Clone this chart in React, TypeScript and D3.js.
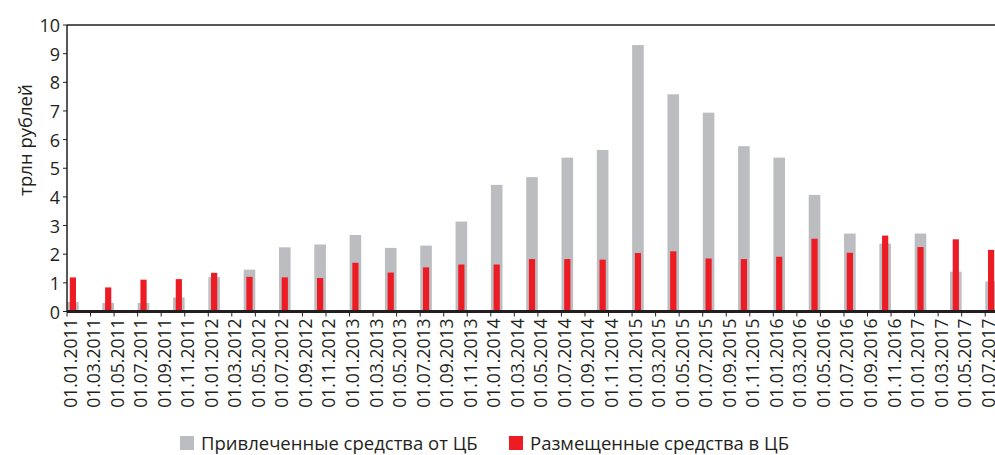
import React from 'react';
import * as d3 from 'd3';

// quarterly observations, trillion rubles
const dates = [
  '01.01.2011', '01.04.2011', '01.07.2011', '01.10.2011',
  '01.01.2012', '01.04.2012', '01.07.2012', '01.10.2012',
  '01.01.2013', '01.04.2013', '01.07.2013', '01.10.2013',
  '01.01.2014', '01.04.2014', '01.07.2014', '01.10.2014',
  '01.01.2015', '01.04.2015', '01.07.2015', '01.10.2015',
  '01.01.2016', '01.04.2016', '01.07.2016', '01.10.2016',
  '01.01.2017', '01.04.2017', '01.07.2017'
];
const borrowed = [
  0.33, 0.30, 0.30, 0.49, 1.20, 1.46, 2.24, 2.34,
  2.67, 2.22, 2.30, 3.14, 4.42, 4.69, 5.37, 5.64,
  9.30, 7.58, 6.94, 5.77, 5.37, 4.07, 2.72, 2.37,
  2.72, 1.39, 1.05
];
const placed = [
  1.19, 0.84, 1.11, 1.13, 1.35, 1.21, 1.19, 1.17,
  1.70, 1.36, 1.54, 1.64, 1.64, 1.83, 1.83, 1.81,
  2.04, 2.10, 1.85, 1.83, 1.91, 2.54, 2.05, 2.65,
  2.25, 2.52, 2.15
];
const tickLabels = [
  '01.01.2011', '01.03.2011', '01.05.2011', '01.07.2011', '01.09.2011', '01.11.2011',
  '01.01.2012', '01.03.2012', '01.05.2012', '01.07.2012', '01.09.2012', '01.11.2012',
  '01.01.2013', '01.03.2013', '01.05.2013', '01.07.2013', '01.09.2013', '01.11.2013',
  '01.01.2014', '01.03.2014', '01.05.2014', '01.07.2014', '01.09.2014', '01.11.2014',
  '01.01.2015', '01.03.2015', '01.05.2015', '01.07.2015', '01.09.2015', '01.11.2015',
  '01.01.2016', '01.03.2016', '01.05.2016', '01.07.2016', '01.09.2016', '01.11.2016',
  '01.01.2017', '01.03.2017', '01.05.2017', '01.07.2017'
];
const yTicks = [0, 1, 2, 3, 4, 5, 6, 7, 8, 9, 10];
const seriesNames = ['Привлеченные средства от ЦБ', 'Размещенные средства в ЦБ'];

const GRAY = '#bcbdc1';
const RED = '#ed1c24';
const INK = '#231f20';
const FONT = '"Open Sans", sans-serif';

const W = 995;
const H = 455;
const left = 67;
const right = 997;
const top = 25;
const bottom = 311.5;

const parse = d3.timeParse('%d.%m.%Y');
const key = d3.timeFormat('%Y-%m');

const App: React.FC = () => {
  // one band per month, bars sit in the middle of their month
  const months = d3.timeMonth.range(new Date(2011, 0, 1), new Date(2017, 7, 1)).map(key);
  const x = d3.scaleBand<string>().domain(months).range([left, right]).padding(0);
  const y = d3.scaleLinear().domain([0, 10]).range([bottom, top]);
  const bw = x.bandwidth();
  const mx = (s: string) => (x(key(parse(s) as Date)) as number);

  return (
    <svg width={W} height={H} style={{ position: 'absolute', left: 0, top: 0 }} fontFamily={FONT}>
      <rect width={W} height={H} fill="#fff" />

      {/* bars */}
      {dates.map((d, i) => {
        const cx = mx(d) + bw / 2;
        return (
          <g key={d}>
            <rect x={cx - 5.8} width={11.6} y={y(borrowed[i])} height={y(0) - y(borrowed[i])} fill={GRAY} />
            <rect x={cx - 3.1} width={6.2} y={y(placed[i])} height={y(0) - y(placed[i])} fill={RED} />
          </g>
        );
      })}

      {/* frame top + y axis */}
      <line x1={left} x2={W} y1={top} y2={top} stroke={INK} strokeWidth={1.3} />
      <line x1={left} x2={left} y1={top} y2={bottom} stroke={INK} strokeWidth={1.5} />
      {yTicks.map(t => (
        <g key={t}>
          <line x1={left - 4} x2={left} y1={y(t)} y2={y(t)} stroke={INK} strokeWidth={1} />
          <text x={left - 7} y={y(t)} textAnchor="end" dominantBaseline="central" fontSize={18} fill={INK}>{t}</text>
        </g>
      ))}
      <text transform="translate(24,140) rotate(-90)" textAnchor="middle"
        dominantBaseline="central" fontSize={18.5} fill={INK}>трлн рублей</text>

      {/* x axis */}
      <line x1={left} x2={W} y1={bottom} y2={bottom} stroke={INK} strokeWidth={3} />
      {tickLabels.map(t => {
        const tx = mx(t);
        return (
          <g key={t}>
            <line x1={tx} x2={tx} y1={bottom} y2={bottom + 5} stroke={INK} strokeWidth={1} />
            <text transform={`translate(${tx + 2.5},${bottom + 7}) rotate(-90)`} textAnchor="end"
              dominantBaseline="central" fontSize={17.5} fill={INK}>{t}</text>
          </g>
        );
      })}

      {/* legend */}
      <rect x={180} y={436} width={14} height={14} fill={GRAY} />
      <text x={201} y={450} fontSize={18.5} fill={INK}>{seriesNames[0]}</text>
      <rect x={509} y={436} width={14} height={14} fill={RED} />
      <text x={530} y={450} fontSize={18.5} fill={INK}>{seriesNames[1]}</text>
    </svg>
  );
};

export default App;
